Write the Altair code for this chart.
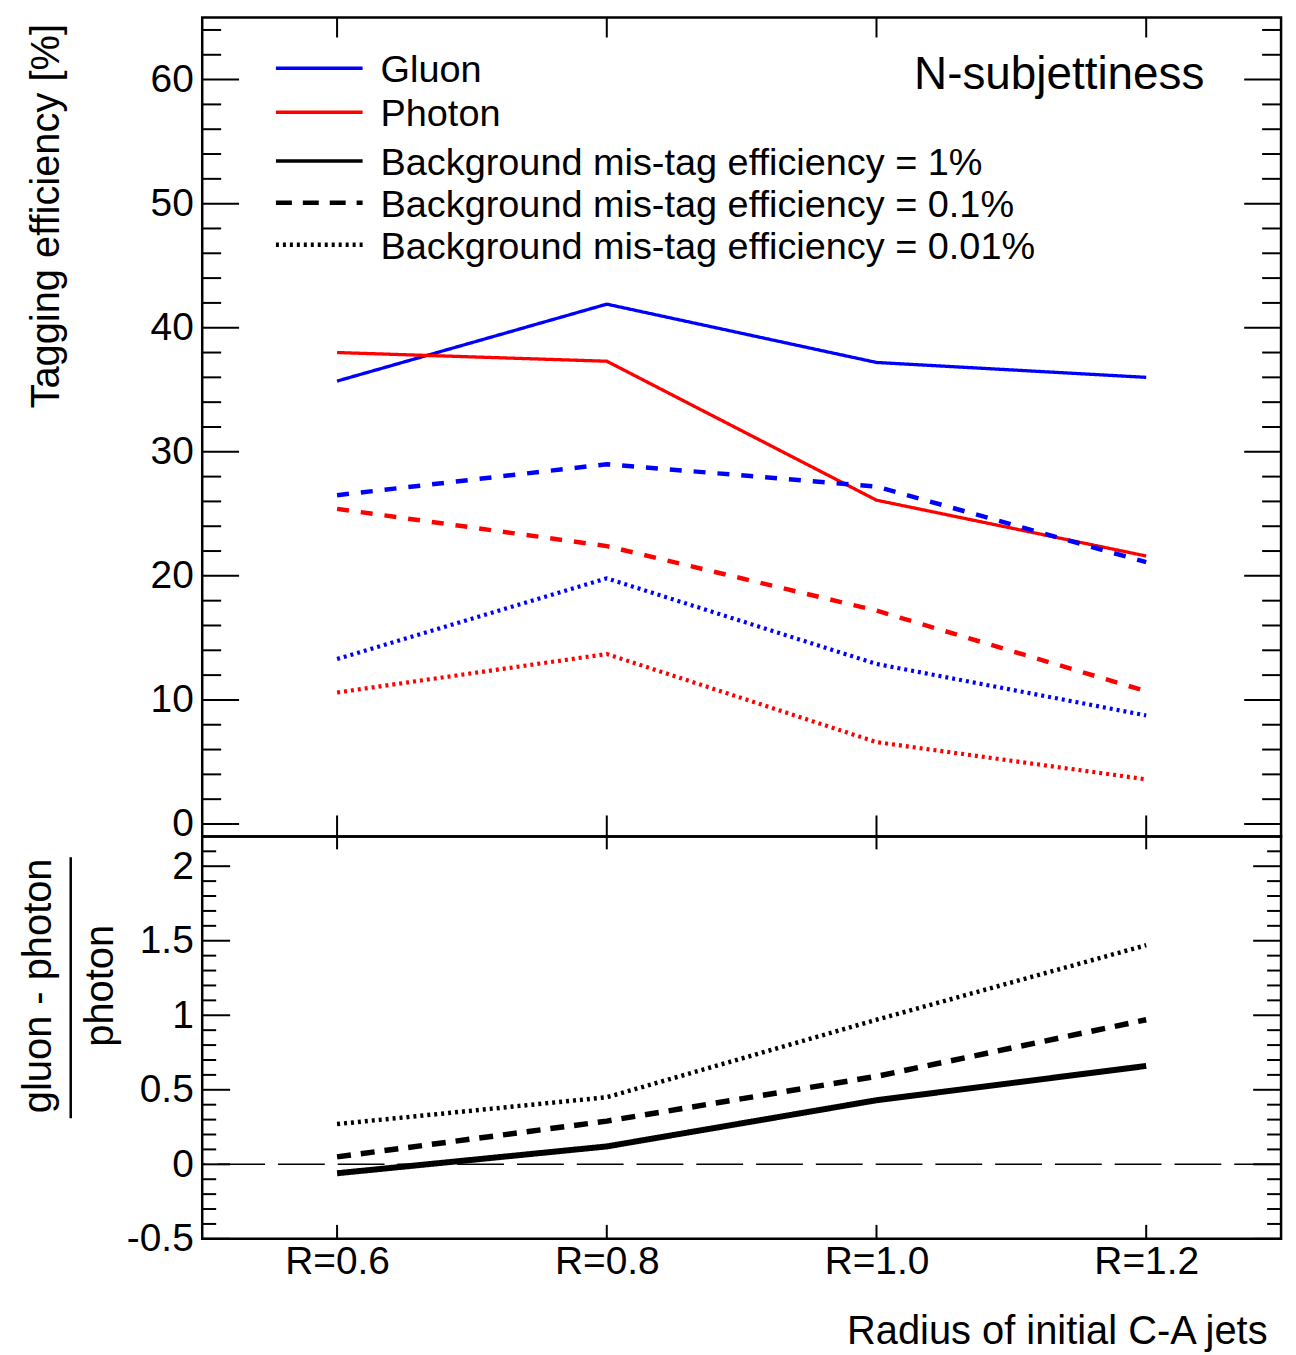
import json

import altair as alt
import numpy as np
import pandas as pd

# ---------------------------------------------------------------- data
R_LABELS = ["R=0.6", "R=0.8", "R=1.0", "R=1.2"]
R_POS = [0, 1, 2, 3]
THRESHOLDS = ["1%", "0.1%", "0.01%"]

# tagging efficiency [%] per jet radius, for each background mis-tag working point
GLUON = {
    "1%": [35.7, 41.9, 37.2, 36.0],
    "0.1%": [26.5, 29.0, 27.2, 21.1],
    "0.01%": [13.3, 19.8, 12.9, 8.75],
}
PHOTON = {
    "1%": [38.0, 37.3, 26.1, 21.6],
    "0.1%": [25.4, 22.4, 17.2, 10.7],
    "0.01%": [10.6, 13.7, 6.6, 3.6],
}
# (gluon - photon) / photon
RATIO = {
    "1%": [-0.06, 0.12, 0.43, 0.66],
    "0.1%": [0.05, 0.29, 0.59, 0.97],
    "0.01%": [0.27, 0.45, 0.97, 1.47],
}

TOP_MAJOR = [0, 10, 20, 30, 40, 50, 60]
TOP_MINOR = [v for v in range(2, 65, 2) if v % 10 != 0]
BOT_MAJOR = [-0.5, 0, 0.5, 1, 1.5, 2]
BOT_MINOR = [round(v, 1) for v in np.arange(-0.4, 2.15, 0.1) if round(v * 10) % 5 != 0]

LEGEND = [
    ("Gluon", "#0000ff", [1, 0], 3.5),
    ("Photon", "#ff0000", [1, 0], 3.5),
    ("Background mis-tag efficiency = 1%", "black", [1, 0], 3.5),
    ("Background mis-tag efficiency = 0.1%", "black", [16, 11], 4.5),
    ("Background mis-tag efficiency = 0.01%", "black", [3, 4], 4.5),
]

# ---------------------------------------------------------------- style
FONT = "Liberation Sans"
W, H_TOP, H_BOT = 1083, 822, 404
X_DOMAIN = [-0.5, 3.5]
TOP_DOMAIN = [-1, 65]
BOT_DOMAIN = [-0.5, 2.2]
# line style per working point: (dash, width) in the upper and lower panels
STYLE_TOP = {"1%": ([1, 0], 3.3), "0.1%": ([12, 12], 4.5), "0.01%": ([3, 4], 4.2)}
STYLE_BOT = {"1%": ([1, 0], 6), "0.1%": ([14, 10], 5.5), "0.01%": ([3, 4], 4.5)}
AXIS_EXTENT = 196

x_scale = alt.Scale(domain=X_DOMAIN, nice=False, zero=False)
top_scale = alt.Scale(domain=TOP_DOMAIN, nice=False, zero=False)
bot_scale = alt.Scale(domain=BOT_DOMAIN, nice=False, zero=False)
colour_scale = alt.Scale(domain=["Gluon", "Photon"], range=["#0000ff", "#ff0000"])

label_style = dict(labelFont=FONT, labelFontSize=39, labelColor="black",
                   ticks=False, tickSize=0, domain=False, grid=False)
title_style = dict(titleFont=FONT, titleFontSize=40, titleFontWeight="normal",
                   titleColor="black")

top_y_axis = alt.Axis(
    values=TOP_MAJOR, labelPadding=9, **label_style,
    title="Tagging efficiency [%]", **title_style, titleAngle=270,
    titleX=-156, titleY=6, titleAlign="right", titleBaseline="middle",
    minExtent=AXIS_EXTENT, maxExtent=AXIS_EXTENT)

bot_y_axis = alt.Axis(
    values=BOT_MAJOR, labelPadding=9, **label_style,
    labelExpr="datum.value < 0 ? '-' + format(-datum.value, '~g') : format(datum.value, '~g')",
    title=None, minExtent=AXIS_EXTENT, maxExtent=AXIS_EXTENT)

bot_x_axis = alt.Axis(
    values=R_POS, labelExpr=json.dumps(R_LABELS) + "[datum.value]",
    labelPadding=4, labelFlush=False, **label_style,
    title="Radius of initial C-A jets", **title_style,
    titleX=1069, titleY=105, titleAlign="right", titleAnchor="end",
    titleBaseline="alphabetic")

eff_rows = []
for particle, table in (("Gluon", GLUON), ("Photon", PHOTON)):
    for thr in THRESHOLDS:
        for pos, val in zip(R_POS, table[thr]):
            eff_rows.append({"pos": pos, "val": val, "particle": particle, "thr": thr})
eff_df = pd.DataFrame(eff_rows)

ratio_rows = []
for thr in THRESHOLDS:
    for pos, val in zip(R_POS, RATIO[thr]):
        ratio_rows.append({"pos": pos, "val": val, "thr": thr})
ratio_df = pd.DataFrame(ratio_rows)


def y_ticks(values, length, y_scale, y_axis):
    """Inward ROOT-style ticks on both vertical edges."""
    df = pd.DataFrame({"val": values})
    out = []
    for x0, x1 in ((0, length), (W, W - length)):
        out.append(alt.Chart(df).mark_rule(color="black", strokeWidth=2).encode(
            y=alt.Y("val:Q", scale=y_scale, axis=y_axis),
            x=alt.value(x0), x2=alt.value(x1)))
    return out


def x_ticks(height, up_len, down_len, x_axis):
    """Inward ticks at each jet radius on the lower and upper edges."""
    df = pd.DataFrame({"pos": R_POS})
    out = []
    for y0, y1 in ((height, height - up_len), (0, down_len)):
        out.append(alt.Chart(df).mark_rule(color="black", strokeWidth=2).encode(
            x=alt.X("pos:Q", scale=x_scale, axis=x_axis),
            y=alt.value(y0), y2=alt.value(y1)))
    return out


# ---------------------------------------------------------------- upper panel
top_lines = []
for thr in THRESHOLDS:
    dash, lw = STYLE_TOP[thr]
    top_lines.append(
        alt.Chart(eff_df[eff_df["thr"] == thr]).mark_line(
            strokeCap="butt", strokeDash=dash, strokeWidth=lw).encode(
            x=alt.X("pos:Q", scale=x_scale, axis=None),
            y=alt.Y("val:Q", scale=top_scale, axis=top_y_axis),
            color=alt.Color("particle:N", scale=colour_scale, legend=None)))

legend_layers = []
legend_line_y = [51, 95, 144, 186, 228]
for (label, colour, dash, lw), ly in zip(LEGEND, legend_line_y):
    entry = alt.Chart(pd.DataFrame({"label": [label]}))
    legend_layers.append(entry.mark_rule(color=colour, strokeWidth=lw, strokeDash=dash,
                                         strokeCap="butt").encode(
        x=alt.value(74), x2=alt.value(161), y=alt.value(ly)))
    legend_layers.append(entry.mark_text(font=FONT, fontSize=38, align="left",
                                         baseline="middle", color="black").encode(
        x=alt.value(179), y=alt.value(ly + 3), text="label:N"))

method_label = alt.Chart(pd.DataFrame({"label": ["N-subjettiness"]})).mark_text(
    font=FONT, fontSize=46, align="right", baseline="middle", color="black").encode(
    x=alt.value(1006), y=alt.value(58), text="label:N")

top = alt.layer(
    *top_lines,
    *y_ticks(TOP_MAJOR, 37, top_scale, top_y_axis),
    *y_ticks(TOP_MINOR, 19, top_scale, top_y_axis),
    *x_ticks(H_TOP, 21, 20, None),
    *legend_layers,
    method_label,
).properties(width=W, height=H_TOP)

# ---------------------------------------------------------------- lower panel
bot_lines = []
for thr in THRESHOLDS:
    dash, lw = STYLE_BOT[thr]
    bot_lines.append(
        alt.Chart(ratio_df[ratio_df["thr"] == thr]).mark_line(
            strokeCap="butt", strokeDash=dash, strokeWidth=lw, color="black").encode(
            x=alt.X("pos:Q", scale=x_scale, axis=bot_x_axis),
            y=alt.Y("val:Q", scale=bot_scale, axis=bot_y_axis)))

zero_line = alt.Chart(pd.DataFrame({"val": [0]})).mark_rule(
    color="black", strokeWidth=1.5, strokeDash=[47, 13]).encode(
    y=alt.Y("val:Q", scale=bot_scale, axis=bot_y_axis))

# fraction-style axis title: numerator, bar, denominator
frac = alt.Chart(pd.DataFrame({"num": ["gluon - photon"], "den": ["photon"]}))
frac_num = frac.mark_text(font=FONT, fontSize=40, angle=270, align="center",
                          baseline="middle", color="black").encode(
    x=alt.value(-164), y=alt.value(150), text="num:N")
frac_den = frac.mark_text(font=FONT, fontSize=40, angle=270, align="center",
                          baseline="middle", color="black").encode(
    x=alt.value(-102), y=alt.value(150), text="den:N")
frac_bar = frac.mark_rule(color="black", strokeWidth=2.5).encode(
    x=alt.value(-132), y=alt.value(21), y2=alt.value(283))

bottom = alt.layer(
    zero_line,
    *bot_lines,
    *y_ticks(BOT_MAJOR, 28, bot_scale, bot_y_axis),
    *y_ticks(BOT_MINOR, 14, bot_scale, bot_y_axis),
    *x_ticks(H_BOT, 14, 13, bot_x_axis),
    frac_num, frac_den, frac_bar,
).properties(width=W, height=H_BOT)

chart = alt.vconcat(top, bottom, spacing=0, bounds="flush").properties(
    padding={"left": 5, "top": 12, "right": 12, "bottom": 5},
    background="white",
).configure(font=FONT).configure_view(stroke="black", strokeWidth=2.5)

chart.save("out.html", embed_options={"renderer": "svg", "actions": False})
